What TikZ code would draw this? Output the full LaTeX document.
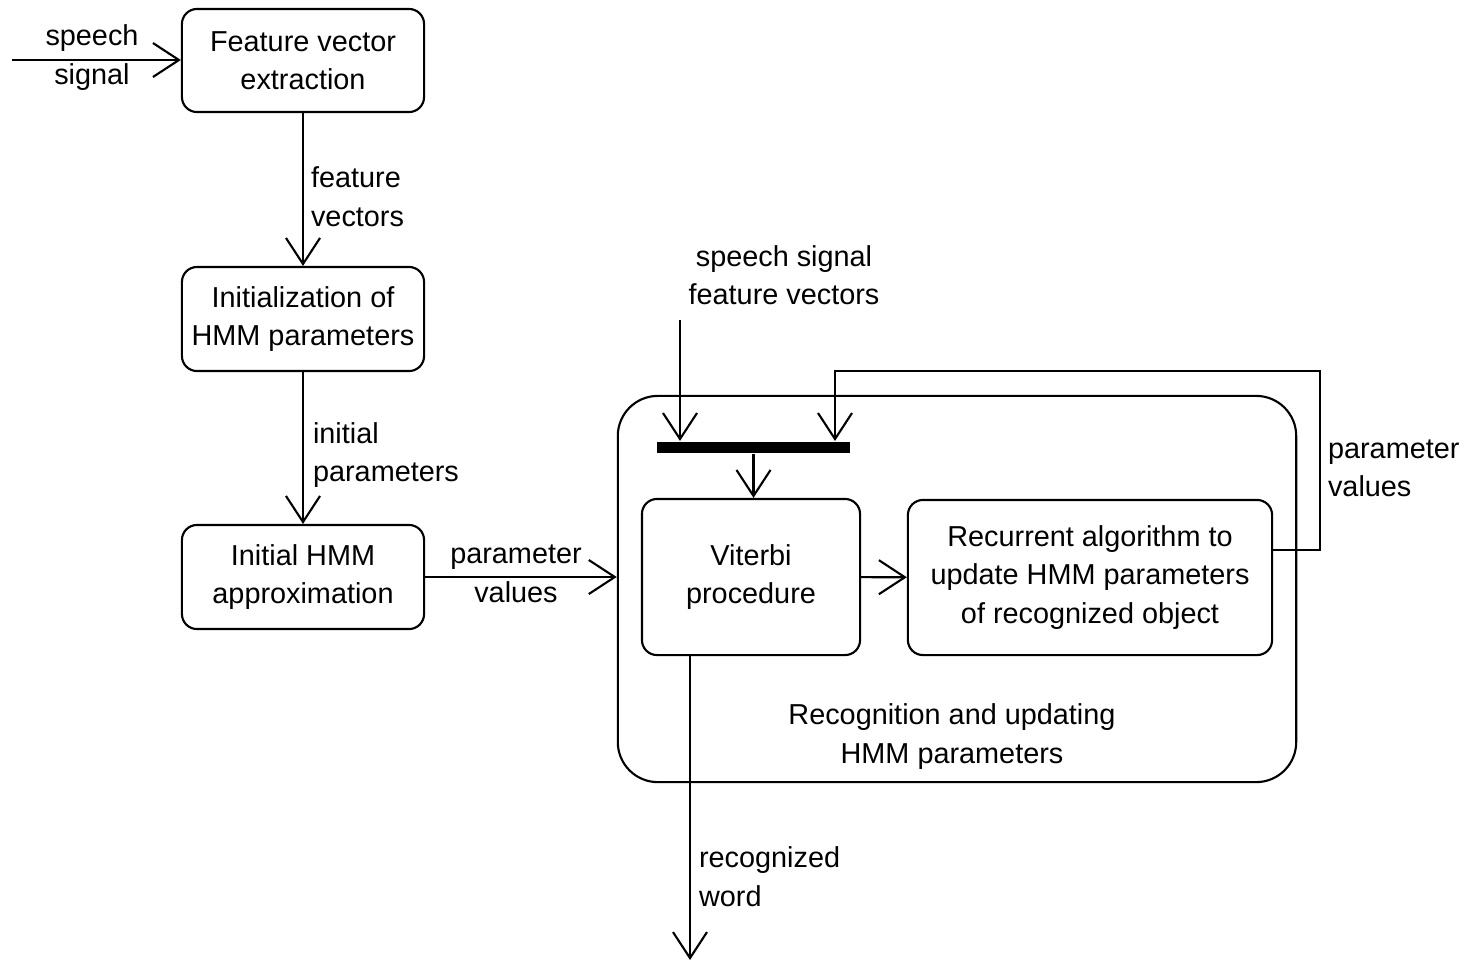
\documentclass[tikz,border=0pt]{standalone}
\usepackage{fontspec}
\setmainfont{Liberation Sans}
\usetikzlibrary{arrows.meta}

\begin{document}
\begin{tikzpicture}[
  x=0.01cm,y=-0.01cm,
  line width=0.6pt,
  >={Straight Barb[length=2.6mm,width=3.4mm]},
  txt/.style={font=\fontsize{8.2}{10.95}\selectfont},
  box/.style={txt,draw,rounded corners=0.15cm,align=center,inner sep=0pt},
  lbl/.style={txt,inner sep=0pt},
  arr/.style={->}
]
  \useasboundingbox (0,0) rectangle (1476,963);

  % left column
  \node[box,minimum width=2.42cm,minimum height=1.03cm] (fve) at (303,60.5) {Feature vector\\extraction};
  \node[box,minimum width=2.42cm,minimum height=1.04cm] (init) at (303,319) {Initialization of\\HMM parameters};
  \node[box,minimum width=2.42cm,minimum height=1.04cm] (approx) at (303,577) {Initial HMM\\approximation};

  % recognition block
  \node[draw,rounded corners=0.4cm,minimum width=6.78cm,minimum height=3.86cm,inner sep=0pt] (rec) at (957,589) {};
  \node[fill=black,minimum width=1.93cm,minimum height=0.11cm,inner sep=0pt] (bar) at (753.5,447.5) {};
  \node[box,minimum width=2.18cm,minimum height=1.56cm] (viterbi) at (751,577) {Viterbi\\procedure};
  \node[box,minimum width=3.64cm,minimum height=1.55cm] (update) at (1090,577.5) {Recurrent algorithm to\\update HMM parameters\\of recognized object};
  \node[lbl,align=center] (reclbl) at (952,736.5) {Recognition and updating\\HMM parameters};

  % free ends
  \coordinate (sin) at (12,60);
  \coordinate (sig) at (680,320);
  \coordinate (fb) at (1320,371);
  \coordinate (fbtop) at (835,371);
  \coordinate (word) at (690,960);

  % connectors
  \draw[arr] (sin) -- (sin -| fve.west);
  \draw[arr] (fve) -- (init);
  \draw[arr] (init) -- (approx);
  \draw[arr] (approx.east) -- (approx.east -| rec.west);
  \draw[arr] (sig) -- (sig |- bar.north);
  \draw[arr] ([yshift=0.275cm]update.east) -| (fb) -- (fbtop) -- (fbtop |- bar.north);
  \draw[arr] (bar.south) -- (bar.south |- viterbi.north);
  \draw[arr] (viterbi) -- (update);
  \draw[arr] (viterbi.south -| word) -- (word);

  % labels
  \node[lbl,align=center] (l1) at (92,57.5) {speech\\signal};
  \node[lbl,align=left,anchor=west] (l2) at (310,196.5) {feature\\vectors};
  \node[lbl,align=left,anchor=west] (l3) at (312,455) {initial\\parameters};
  \node[lbl,align=center] (l4) at (516,574) {parameter\\values};
  \node[lbl,align=center] (l5) at (784,275) {speech signal\\feature vectors};
  \node[lbl,align=left,anchor=west] (l6) at (1327,468.5) {parameter\\values};
  \node[lbl,align=left,anchor=west] (l7) at (698,876.5) {recognized\\word};
\end{tikzpicture}
\end{document}
